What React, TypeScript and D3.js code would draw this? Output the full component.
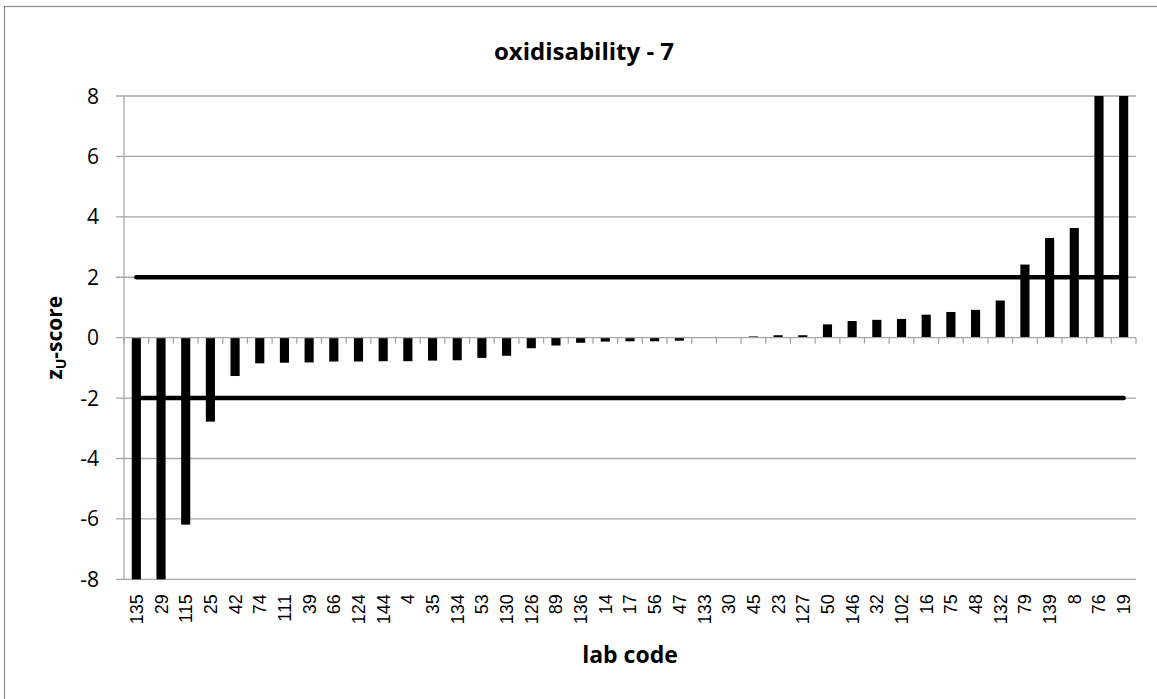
import React from "react";
import * as d3 from "d3";

const labCodes = ["135","29","115","25","42","74","111","39","66","124","144","4","35","134","53","130","126","89","136","14","17","56","47","133","30","45","23","127","50","146","32","102","16","75","48","132","79","139","8","76","19"];
const zScores = [-8,-8,-6.19,-2.78,-1.27,-0.85,-0.83,-0.82,-0.79,-0.79,-0.78,-0.78,-0.76,-0.75,-0.67,-0.6,-0.35,-0.26,-0.17,-0.13,-0.12,-0.12,-0.1,-0.01,0.02,0.04,0.08,0.08,0.44,0.55,0.59,0.62,0.76,0.85,0.92,1.23,2.42,3.3,3.63,8,8];
const yTicks = [-8,-6,-4,-2,0,2,4,6,8];
const limits = [2,-2];
const title = "oxidisability - 7";
const xTitle = "lab code";

const W = 1157, H = 699;
const left = 124, right = 1136, top = 96, bottom = 579.3;

export default function App() {
  const x = d3.scaleBand<string>().domain(labCodes).range([left, right]).paddingInner(0).paddingOuter(0);
  const y = d3.scaleLinear().domain([-8, 8]).range([bottom, top]).clamp(true);
  const bw = x.bandwidth() * 0.37;
  const grid = "#a6a6a6";
  const center = (c: string) => (x(c) as number) + x.bandwidth() / 2;
  const boundaries = d3.range(labCodes.length + 1).map(i => left + i * x.bandwidth());
  const y0 = y(0);
  return (
    <svg width={W} height={H} style={{ position: "absolute", left: 0, top: 0, background: "#fff" }}>
      <rect x={4.5} y={6.5} width={W + 10} height={H + 10} fill="#fff" stroke="#8c8c8c" strokeWidth={1.2} />
      <text x={584} y={60} textAnchor="middle" fontFamily="'Open Sans', sans-serif" fontWeight="bold" fontSize={24} fill="#000">{title}</text>
      {yTicks.map(t => (
        <g key={t}>
          {t !== 0 && <line x1={116} x2={right} y1={y(t)} y2={y(t)} stroke={grid} strokeWidth={1.3} />}
          <text x={99} y={y(t)} dy="0.36em" textAnchor="end" fontFamily="'Open Sans', sans-serif" fontSize={21} fill="#000">{t}</text>
        </g>
      ))}
      <line x1={left} x2={left} y1={top} y2={bottom} stroke={grid} strokeWidth={1.3} />
      {labCodes.map((c, i) => {
        const v = zScores[i];
        const yv = y(v);
        return <rect key={c} x={center(c) - bw / 2} y={Math.min(yv, y0)} width={bw} height={Math.abs(yv - y0)} fill="#000" />;
      })}
      <line x1={116} x2={right} y1={y0} y2={y0} stroke={grid} strokeWidth={1.3} />
      {boundaries.map((bx, i) => (
        <line key={i} x1={bx} x2={bx} y1={y0} y2={y0 + 6} stroke={grid} strokeWidth={1.3} />
      ))}
      {limits.map(l => (
        <line key={l} x1={center(labCodes[0])} x2={center(labCodes[labCodes.length - 1])} y1={y(l)} y2={y(l)} stroke="#000" strokeWidth={4.5} strokeLinecap="round" />
      ))}
      {labCodes.map(c => (
        <text key={c} transform={`translate(${center(c)},${bottom + 15}) rotate(-90)`} dy="0.36em" textAnchor="end" fontFamily="'Liberation Sans', Arial, sans-serif" fontSize={18} fill="#000">{c}</text>
      ))}
      <text x={(left + right) / 2} y={663} textAnchor="middle" fontFamily="'Open Sans', sans-serif" fontWeight="bold" fontSize={23} fill="#000">{xTitle}</text>
      <text transform={`translate(62,${(top + bottom) / 2}) rotate(-90)`} textAnchor="middle" fontFamily="'Open Sans', sans-serif" fontWeight="bold" fontSize={21} fill="#000">
        z<tspan fontSize={14} dy={4}>U</tspan><tspan dy={-4}>-score</tspan>
      </text>
    </svg>
  );
}
